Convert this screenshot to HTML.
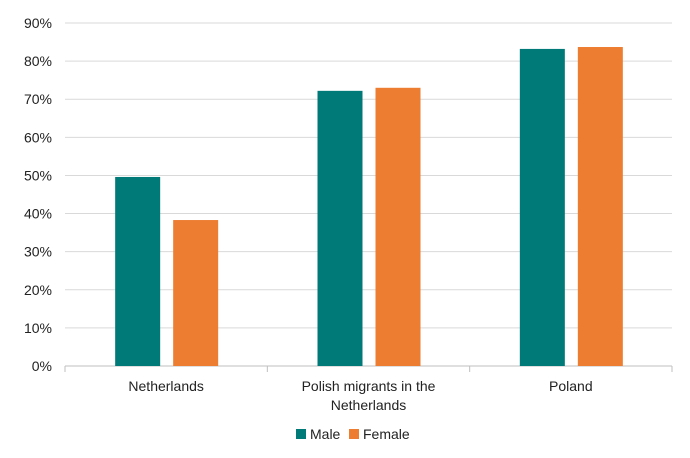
<!DOCTYPE html>
<html><head><meta charset="utf-8"><style>
body{margin:0;background:#fff;font-family:"Liberation Sans",sans-serif;}
svg text{font-family:"Liberation Sans",sans-serif;fill:#222;}
</style></head><body>
<svg width="690" height="453" viewBox="0 0 690 453">
<g id="grid"></g><g id="bars"></g><g id="xl"></g>
<g>
<rect x="296" y="429" width="10" height="10" fill="#007A78"/>
<text x="310" y="439" font-size="14">Male</text>
<rect x="349" y="429" width="10" height="10" fill="#ED7D31"/>
<text x="363" y="439" font-size="14">Female</text>
</g>
</svg>
<script>
const categories=[["Netherlands"],["Polish migrants in the","Netherlands"],["Poland"]];
const male=[49.6,72.2,83.2];
const female=[38.3,73.0,83.7];
const ticks=[0,10,20,30,40,50,60,70,80,90];
const ns="http://www.w3.org/2000/svg";
const x0=65,x1=672,y0=366,yTop=23,ymax=90;
const y=v=>y0-(v/ymax)*(y0-yTop);
const bw=(x1-x0)/categories.length;
function mk(t,a,p){const e=document.createElementNS(ns,t);for(const k in a)e.setAttribute(k,a[k]);p.appendChild(e);return e;}
const g=document.getElementById('grid');
ticks.forEach(t=>{
 const l=mk('line',{x1:x0,x2:x1,y1:y(t),y2:y(t),stroke:t?'#d9d9d9':'#bfbfbf','stroke-width':1},g);
 
 
 const tx=mk('text',{x:52,y:y(t)+5,'text-anchor':'end','font-size':14},g);
 tx.textContent=t+'%';
 
 
});
for(let i=0;i<=categories.length;i++){mk('line',{x1:x0+i*bw,x2:x0+i*bw,y1:y0,y2:y0+6,stroke:'#bfbfbf'},g);}
const b=document.getElementById('bars'),xl=document.getElementById('xl');
categories.forEach((c,i)=>{
 const cx=x0+bw*(i+0.5);
 const r1=mk('rect',{x:cx-51,y:y(male[i]),width:45,height:y0-y(male[i]),fill:'#007A78'},b);
 
 
 const r2=mk('rect',{x:cx+7,y:y(female[i]),width:45,height:y0-y(female[i]),fill:'#ED7D31'},b);
 
 
 c.forEach((line,j)=>{
  const t=mk('text',{x:cx,y:391+j*19,'text-anchor':'middle','font-size':14},xl);
  t.textContent=line;
  
  
 });
});
</script>
</body></html>
